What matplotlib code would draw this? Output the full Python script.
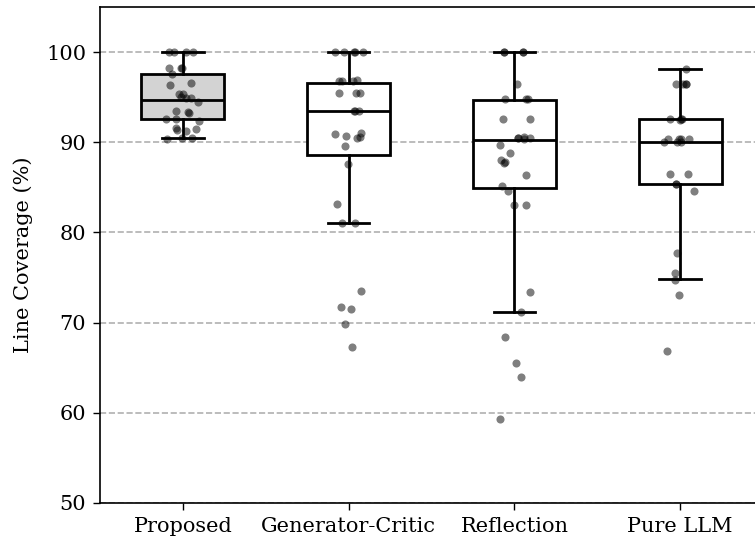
import matplotlib

matplotlib.use("Agg")
import matplotlib.pyplot as plt  # noqa: E402
import numpy as np  # noqa: E402

plt.rcParams["font.family"] = ["DejaVu Serif"]

methods = ["Proposed", "Generator-Critic", "Reflection", "Pure LLM"]

# per-run line coverage (%)
proposed = [100, 100, 100, 100, 98.2, 98.2, 98.2, 97.6, 96.6, 96.3, 95.3, 95.3,
            95.0, 94.9, 94.9, 94.5, 93.5, 93.4, 93.2, 92.6, 92.6, 92.4, 91.6,
            91.4, 91.5, 91.3, 90.5, 90.5, 90.4]
gen_critic = [100, 100, 100, 100, 100, 96.8, 96.8, 96.8, 96.9, 95.5, 95.5, 95.5,
              93.5, 93.5, 93.5, 90.7, 90.5, 91.0, 90.9, 90.6, 89.6, 87.6, 83.2,
              81.0, 81.0, 73.5, 71.7, 71.5, 69.9, 67.3]
reflection = [100, 100, 100, 100, 96.5, 94.8, 94.8, 94.8, 92.6, 92.6, 90.5, 90.5,
              90.5, 90.4, 90.6, 89.7, 88.8, 88.0, 87.7, 87.8, 86.4, 85.2, 84.6,
              83.0, 83.0, 73.4, 71.2, 68.4, 65.5, 64.0, 59.3]
pure_llm = [98.1, 96.5, 96.5, 96.5, 96.5, 92.6, 92.6, 92.6, 92.5, 90.4, 90.4,
            90.4, 90.4, 90.0, 90.0, 90.0, 86.5, 86.5, 85.4, 85.4, 84.6, 77.7,
            75.5, 74.7, 73.1, 66.8]
scores = [proposed, gen_critic, reflection, pure_llm]

# box summaries as drawn in the reference
medians = [94.7, 93.5, 90.3, 90.0]
q1s = [92.6, 88.6, 84.9, 85.4]
q3s = [97.6, 96.6, 94.7, 92.6]
whis_lo = [90.5, 81.0, 71.2, 74.8]
whis_hi = [100.0, 100.0, 100.0, 98.1]
box_colors = ["lightgray", "white", "white", "white"]

W, H, DPI = 755, 542, 100
fig = plt.figure(figsize=(W / DPI, H / DPI), dpi=DPI)
# right edge runs past the canvas, as in the reference crop
ax = fig.add_axes([100 / W, 39 / H, 663 / W, 496 / H])

stats = [dict(med=m, q1=a, q3=b, whislo=lo, whishi=hi, fliers=[], label=name)
         for m, a, b, lo, hi, name in zip(medians, q1s, q3s, whis_lo, whis_hi, methods)]
line = dict(color="black", linewidth=2)
bp = ax.bxp(stats, positions=range(len(methods)), widths=0.5, patch_artist=True,
            showfliers=False, boxprops=dict(edgecolor="black", linewidth=2),
            medianprops=line, whiskerprops=line, capprops=line)
for patch, c in zip(bp["boxes"], box_colors):
    patch.set_facecolor(c)

rng = np.random.default_rng(3)
for i, vals in enumerate(scores):
    xs = i + rng.uniform(-0.1, 0.1, len(vals))
    ax.scatter(xs, vals, s=34, color="black", alpha=0.5, linewidths=0, zorder=4)

ax.set_xlim(-0.5, 3.5)
ax.set_ylim(50, 105)
ax.set_yticks([50, 60, 70, 80, 90, 100])
ax.set_xticks(range(len(methods)), labels=methods)
ax.tick_params(labelsize=15, length=5, width=1, pad=5)
ax.set_ylabel("Line Coverage (%)", fontsize=15, labelpad=9)
ax.yaxis.grid(True, linestyle="--", color="#b0b0b0", linewidth=1.2)
ax.set_axisbelow(True)
for sp in ax.spines.values():
    sp.set_linewidth(1.2)

fig.savefig("out.png", dpi=DPI)
